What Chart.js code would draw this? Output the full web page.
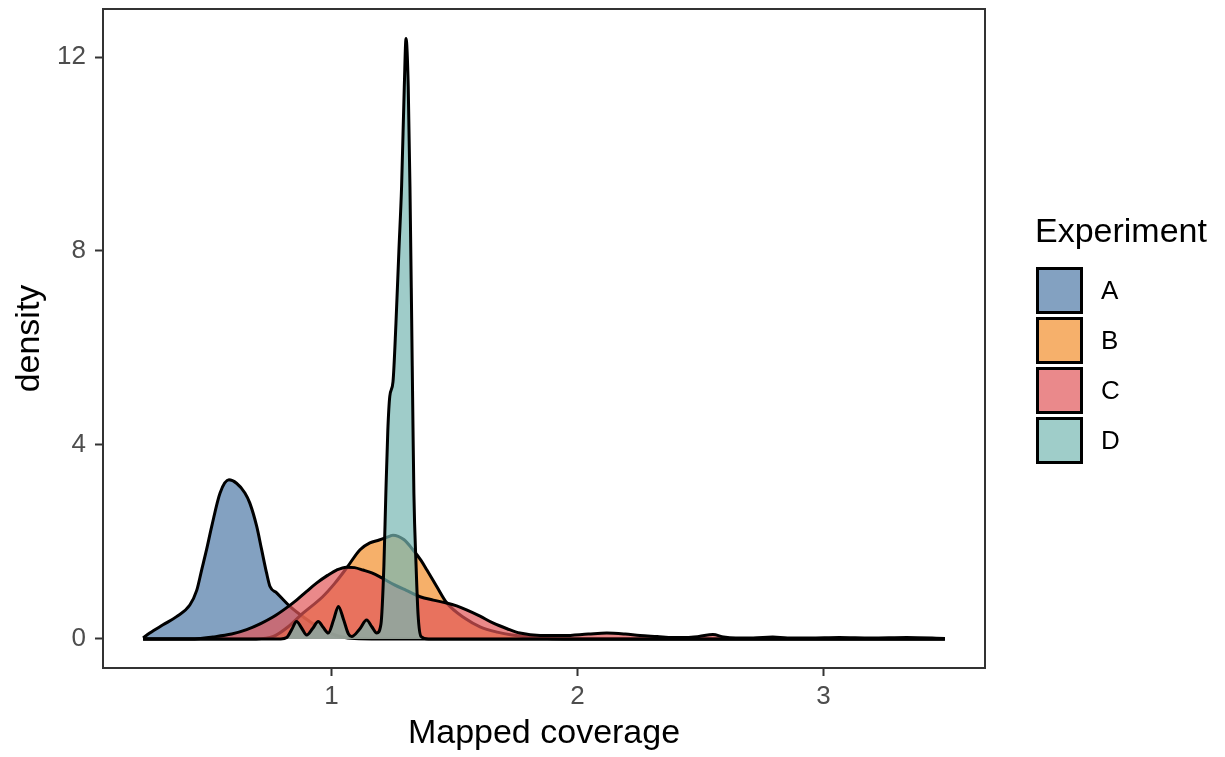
<!DOCTYPE html>
<html>
<head>
<meta charset="utf-8">
<script src="https://cdn.jsdelivr.net/npm/chart.js@4.4.0/dist/chart.umd.min.js"></script>
<style>
  body { margin: 0; background: #fff; font-family: "Liberation Sans", Arial, sans-serif; }
  #wrap { position: relative; width: 1225px; height: 757px; }
  #legend { position: absolute; left: 1035px; top: 213px; }
  #legend .title { font-size: 34px; line-height: 34px; color: #000; margin-bottom: 18px; }
  #legend .item { display: flex; align-items: center; height: 50px; }
  #legend .box { width: 47px; height: 47px; box-sizing: border-box; border: 3px solid #000; margin-left: 1px; }
  #legend .lab { font-size: 26px; color: #000; margin-left: 18px; }
</style>
</head>
<body>
<div id="wrap">
  <canvas id="chart" width="1225" height="757"></canvas>
  <div id="legend"></div>
</div>
<script>
const experiments = ["A", "B", "C", "D"];
const fillColors = ["rgba(78,121,167,0.7)", "rgba(242,142,43,0.7)", "rgba(225,87,89,0.7)", "rgba(118,183,178,0.7)"];
const legendColors = ["#83a1c1", "#f6b06b", "#ea898b", "#9fcdc9"];
const xTicks = [1, 2, 3];
const yTicks = [0, 4, 8, 12];

// density curves (each runs along 0 to the end of the range)
const coverageA = [0.234, 0.261, 0.315, 0.37, 0.424, 0.452, 0.472, 0.492, 0.513, 0.547, 0.583, 0.614, 0.648, 0.668, 0.696, 0.716, 0.736, 0.75, 0.777, 0.831, 0.894, 0.944, 0.994, 1.044, 1.094, 1.194, 3.494];
const densityA  = [0.02, 0.12, 0.29, 0.46, 0.70, 1.0, 1.42, 1.84, 2.32, 3.01, 3.28, 3.21, 3.01, 2.8, 2.32, 1.84, 1.36, 1.08, 0.95, 0.67, 0.42, 0.25, 0.12, 0.04, 0.01, 0, 0];

const coverageB = [0.234, 0.694, 0.764, 0.824, 0.884, 0.964, 1.014, 1.064, 1.116, 1.156, 1.194, 1.238, 1.25, 1.294, 1.331, 1.364, 1.388, 1.429, 1.469, 1.544, 1.604, 1.674, 1.734, 1.844, 1.944, 3.494];
const densityB  = [0, 0, 0.05, 0.25, 0.53, 0.87, 1.15, 1.48, 1.84, 1.98, 2.04, 2.12, 2.14, 2.05, 1.84, 1.62, 1.42, 1.07, 0.74, 0.42, 0.25, 0.14, 0.08, 0.02, 0, 0];

const coverageC = [0.234, 0.444, 0.518, 0.594, 0.655, 0.714, 0.762, 0.814, 0.858, 0.899, 0.939, 0.984, 1.021, 1.061, 1.094, 1.128, 1.164, 1.197, 1.254, 1.304, 1.36, 1.414, 1.468, 1.509, 1.549, 1.604, 1.656, 1.714, 1.766, 1.848, 1.944, 2.044, 2.119, 2.194, 2.254, 2.324, 2.388, 2.444, 2.494, 2.551, 2.594, 2.644, 2.714, 2.794, 2.854, 2.944, 3.064, 3.194, 3.339, 3.494];
const densityC  = [0, 0, 0.04, 0.1, 0.19, 0.32, 0.45, 0.63, 0.8, 0.98, 1.15, 1.31, 1.42, 1.48, 1.47, 1.42, 1.36, 1.28, 1.12, 1.0, 0.87, 0.8, 0.74, 0.68, 0.6, 0.47, 0.33, 0.21, 0.12, 0.07, 0.07, 0.1, 0.12, 0.1, 0.07, 0.05, 0.03, 0.03, 0.05, 0.09, 0.04, 0.02, 0.02, 0.04, 0.02, 0.02, 0.03, 0.02, 0.03, 0.01];

const coverageD = [0.234, 0.794, 0.818, 0.839, 0.858, 0.879, 0.899, 0.924, 0.946, 0.966, 0.987, 1.009, 1.028, 1.049, 1.069, 1.082, 1.114, 1.143, 1.164, 1.184, 1.201, 1.213, 1.221, 1.229, 1.237, 1.25, 1.262, 1.274, 1.285, 1.296, 1.303, 1.312, 1.319, 1.326, 1.331, 1.335, 1.344, 1.352, 1.364, 1.394, 3.494];
const densityD  = [0, 0, 0.03, 0.2, 0.36, 0.22, 0.08, 0.22, 0.36, 0.24, 0.12, 0.4, 0.67, 0.4, 0.1, 0.05, 0.2, 0.39, 0.25, 0.12, 0.3, 1.5, 3.0, 4.3, 5.0, 5.3, 6.5, 8.0, 9.33, 11.39, 12.38, 11.39, 9.33, 6.58, 4.5, 3.0, 1.5, 0.5, 0.05, 0, 0];

const coverage = [coverageA, coverageB, coverageC, coverageD];
const density = [densityA, densityB, densityC, densityD];

Chart.defaults.font.family = '"Liberation Sans", Arial, sans-serif';

const panelBorder = {
  id: "panelBorder",
  afterDatasetsDraw(chart) {
    const { ctx, chartArea: a } = chart;
    ctx.save();
    ctx.strokeStyle = "#333333";
    ctx.lineWidth = 2;
    ctx.strokeRect(a.left, a.top, a.right - a.left, a.bottom - a.top);
    ctx.restore();
  }
};

const datasets = experiments.map((name, i) => ({
  label: name,
  data: coverage[i].map((x, j) => ({ x: x, y: density[i][j] })),
  backgroundColor: fillColors[i],
  borderColor: "#000",
  borderWidth: 3,
  fill: "origin",
  pointRadius: 0,
  cubicInterpolationMode: "monotone",
  order: experiments.length - i
}));

function noPad(s) {
  s.paddingTop = 0;
  s.paddingBottom = 0;
  s.paddingLeft = 0;
  s.paddingRight = 0;
}

new Chart(document.getElementById("chart"), {
  type: "line",
  data: { datasets },
  options: {
    responsive: false,
    devicePixelRatio: 1,
    animation: false,
    layout: { padding: { top: 9, right: 240, bottom: 0, left: 0 } },
    plugins: { legend: { display: false }, tooltip: { enabled: false } },
    scales: {
      x: {
        type: "linear",
        min: 0.071,
        max: 3.657,
        afterBuildTicks: s => { s.ticks = xTicks.map(v => ({ value: v })); },
        afterFit: s => { s.height = 89; noPad(s); },
        grid: { drawOnChartArea: false, tickLength: 8, tickWidth: 2, color: "#333333" },
        border: { display: false },
        ticks: { color: "#4D4D4D", font: { size: 26 }, padding: 5, maxRotation: 0 },
        title: { display: true, text: "Mapped coverage", color: "#000", font: { size: 34 }, padding: { top: 0, bottom: 3 } }
      },
      y: {
        min: -0.6,
        max: 12.99,
        afterBuildTicks: s => { s.ticks = yTicks.map(v => ({ value: v })); },
        afterFit: s => { s.width = 103; noPad(s); },
        grid: { drawOnChartArea: false, tickLength: 8, tickWidth: 2, color: "#333333" },
        border: { display: false },
        ticks: { color: "#4D4D4D", font: { size: 26 }, padding: 9 },
        title: { display: true, text: "density", color: "#000", font: { size: 34 }, padding: { top: 9, bottom: 0 } }
      }
    }
  },
  plugins: [panelBorder]
});

// legend
const legend = document.getElementById("legend");
legend.innerHTML = '<div class="title">Experiment</div>' +
  experiments.map((name, i) =>
    '<div class="item"><div class="box" style="background:' + legendColors[i] + '"></div><span class="lab">' + name + '</span></div>'
  ).join("");
</script>
</body>
</html>
